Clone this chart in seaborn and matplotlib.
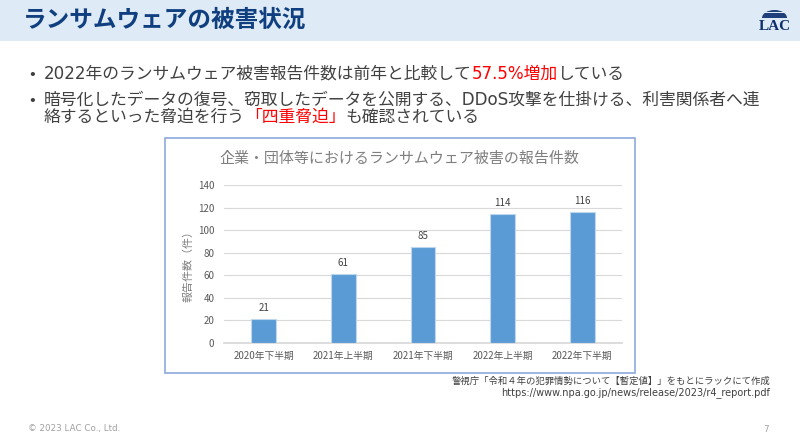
import matplotlib
matplotlib.use("Agg")
import matplotlib.pyplot as plt
from matplotlib.patches import Rectangle, Ellipse
import seaborn as sns

periods = ["2020年下半期", "2021年上半期", "2021年下半期", "2022年上半期", "2022年下半期"]
counts = [21, 61, 85, 114, 116]
y_ticks = [0, 20, 40, 60, 80, 100, 120, 140]

sns.set_theme(style="white")
plt.rcParams['font.family'] = ['Noto Sans CJK JP', 'DejaVu Sans']

W, H = 800, 448
fig = plt.figure(figsize=(W / 100, H / 100), dpi=100, facecolor="white")

# full-slide layer in pixel coordinates
bg = fig.add_axes([0, 0, 1, 1], zorder=0)
bg.set_xlim(0, W)
bg.set_ylim(H, 0)
bg.axis("off")
BAND = "#deeaf6"
bg.add_patch(Rectangle((0, 0), W, 41.5, fc=BAND, ec="none"))
bg.add_patch(Rectangle((165, 138.5), 470, 235, fc="white", ec="#8eaadb", lw=1.2))

bg.text(23, 20, "ランサムウェアの被害状況", fontsize=17, fontweight="bold",
        color="#103f7f", va="center", ha="left")

# logo: striped dome over the letters
bg.add_patch(Ellipse((774.5, 18), 25, 16, fc="#1f3f7a", ec="none"))
bg.add_patch(Rectangle((760, 18), 30, 9, fc=BAND, ec="none"))
for y0, hh in [(12.2, 0.7), (14.6, 0.8)]:
    bg.add_patch(Rectangle((760, y0), 30, hh, fc=BAND, ec="none"))
bg.text(774.5, 26, "LAC", fontsize=11, fontweight="bold", color="#10306b",
        family="Liberation Serif", va="center", ha="center")

TXT = "#404040"
RED = "#ff0000"
FS = 12.1
BODY = ['DejaVu Sans', 'Noto Sans CJK JP']


def segs(x, y, parts):
    rend = fig.canvas.get_renderer()
    for s, c in parts:
        t = bg.text(x, y, s, fontsize=FS, color=c, va="center", ha="left", family=BODY)
        x += t.get_window_extent(rend).width


bg.text(29, 74, "•", fontsize=FS, color=TXT, va="center", ha="left")
bg.text(29, 100, "•", fontsize=FS, color=TXT, va="center", ha="left")
segs(44, 74, [("2022年のランサムウェア被害報告件数は前年と比較して", TXT), ("57.5%増加", RED), ("している", TXT)])
segs(44, 100, [("暗号化したデータの復号、窃取したデータを公開する、DDoS攻撃を仕掛ける、利害関係者へ連", TXT)])
segs(44, 117, [("絡するといった脅迫を行う", TXT), ("「四重脅迫」", RED), ("も確認されている", TXT)])

bg.text(770, 381, "警視庁「令和４年の犯罪情勢について【暫定値】」をもとにラックにて作成",
        fontsize=6.75, color="#404040", va="center", ha="right")
bg.text(770, 393, "https://www.npa.go.jp/news/release/2023/r4_report.pdf",
        fontsize=7, color="#404040", va="center", ha="right", family="DejaVu Sans")
bg.text(28, 429, "© 2023 LAC Co., Ltd.", fontsize=6.3, color="#a0a0a0", va="center", ha="left", family="DejaVu Sans")
bg.text(769, 429, "7", fontsize=6.3, color="#a0a0a0", va="center", ha="right", family="DejaVu Sans")

# chart
left, right, top, bottom = 224, 622, 185, 342.7
ax = fig.add_axes([left / W, 1 - bottom / H, (right - left) / W, (bottom - top) / H], zorder=1)
ax.patch.set_alpha(0)
sns.barplot(x=periods, y=counts, color="#5b9bd5", width=0.31, saturation=1,
            edgecolor="#bdd7ee", linewidth=0.8, ax=ax, zorder=3)
ax.set_xlim(-0.5, 4.5)
ax.set_ylim(0, 140)
ax.set_yticks(y_ticks)
ax.grid(axis="y", color="#d9d9d9", lw=0.8, zorder=0)
ax.grid(axis="x", visible=False)
ax.set_axisbelow(True)
for s in ["top", "right", "left"]:
    ax.spines[s].set_visible(False)
ax.spines["bottom"].set_color("#d9d9d9")
ax.spines["bottom"].set_clip_on(False)
ax.tick_params(axis="x", length=0, labelsize=7, labelcolor="#595959", pad=6)
ax.tick_params(axis="y", length=0, labelsize=7, labelcolor="#595959", pad=7)
ax.set_ylabel("報告件数（件）", fontsize=7.9, color="#7f7f7f", labelpad=3)
ax.set_xlabel("")
ax.bar_label(ax.containers[0], fontsize=7, color="#404040", padding=4.5)

bg.text(399.5, 159, "企業・団体等におけるランサムウェア被害の報告件数", fontsize=10.8,
        color="#7f7f7f", va="center", ha="center")

fig.savefig("out.png", dpi=100)
